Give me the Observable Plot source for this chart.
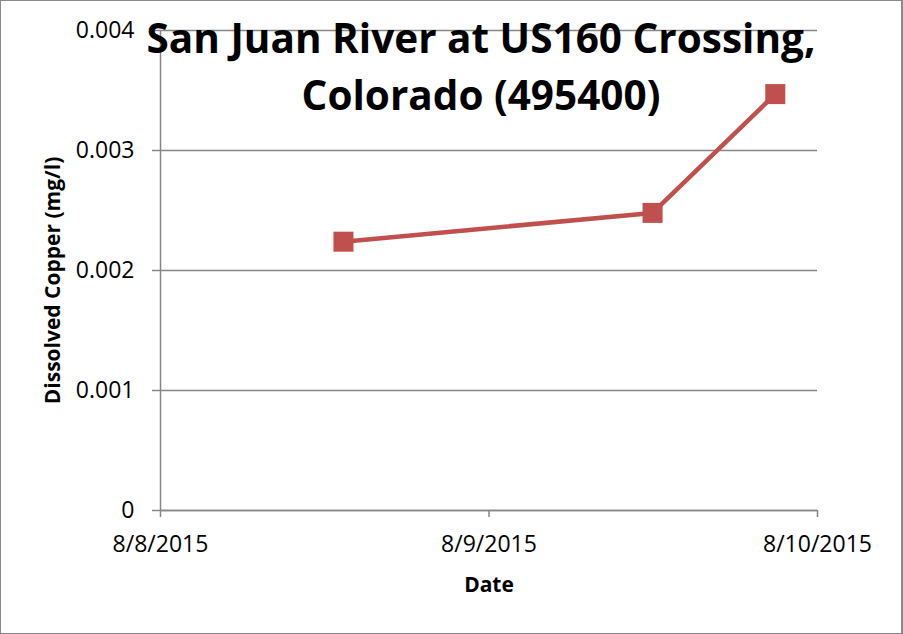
<!DOCTYPE html>
<html>
<head>
<meta charset="utf-8">
<script src="https://cdn.jsdelivr.net/npm/d3@7"></script>
<script src="https://cdn.jsdelivr.net/npm/@observablehq/plot@0.6"></script>
<style>
  html, body { margin: 0; padding: 0; background: #fff; }
  #wrap { position: relative; width: 903px; height: 634px; overflow: hidden; font-family: "Open Sans", sans-serif; }
  #frame { position: absolute; left: 0; top: 0; width: 903px; height: 634px; box-sizing: border-box; border: 1px solid #8a8a8a; border-right-width: 2px; pointer-events: none; }
  #title { position: absolute; left: 81px; width: 800px; top: 9px; text-align: center; font-weight: 700; font-size: 40.5px; line-height: 57px; color: #000; white-space: nowrap; }
  #chart { position: absolute; left: 0; top: 0; }
</style>
</head>
<body>
<div id="wrap">
  <div id="chart"></div>
  <div id="title">San Juan River at US160 Crossing,<br>Colorado (495400)</div>
  <div id="frame"></div>
</div>
<script>
const dates = ["2015-08-08T13:22Z", "2015-08-09T11:57Z", "2015-08-09T20:55Z"];
const copper = [0.00224, 0.00248, 0.00347];
const xTicks = ["2015-08-08T00:00Z", "2015-08-09T00:00Z", "2015-08-10T00:00Z"];
const yTicks = [0, 0.001, 0.002, 0.003, 0.004];
const xLabel = "Date";
const yLabel = "Dissolved Copper (mg/l)";

const data = dates.map((d, i) => ({date: new Date(d), value: copper[i]}));
const xTickDates = xTicks.map(d => new Date(d));
const fmtDate = d3.utcFormat("%-m/%-d/%Y");
const gray = "#868686";
const red = "#C0504D";

const plot = Plot.plot({
  width: 903,
  height: 634,
  marginLeft: 160,
  marginRight: 86,
  marginTop: 30,
  marginBottom: 124,
  style: {fontFamily: "Open Sans, sans-serif", fontSize: "23px", color: "#000", background: "transparent"},
  x: {type: "utc", domain: [xTickDates[0], xTickDates[2]]},
  y: {domain: [0, 0.004]},
  marks: [
    Plot.gridY(yTicks, {stroke: gray, strokeOpacity: 1, strokeWidth: 1.5}),
    Plot.ruleX([xTickDates[0]], {stroke: gray, strokeWidth: 1.5}),
    Plot.ruleY([0], {stroke: gray, strokeWidth: 1.5}),
    Plot.axisY({ticks: yTicks, tickSize: 8, tickPadding: 18, stroke: gray, strokeWidth: 1.5, fill: "#000", fontSize: 23,
      tickFormat: d => d === 0 ? "0" : d.toFixed(3), label: null}),
    Plot.axisX({ticks: xTickDates, tickSize: 7, tickPadding: 18, stroke: gray, strokeWidth: 1.5, fill: "#000", fontSize: 23,
      tickFormat: fmtDate, label: null}),
    Plot.line(data, {x: "date", y: "value", stroke: red, strokeWidth: 4.5}),
    Plot.dot(data, {x: "date", y: "value", symbol: "square", r: 11.3, fill: red, stroke: "none"}),
    Plot.text([yLabel], {frameAnchor: "left", dx: -107, dy: 10, rotate: -90, textAnchor: "middle", lineAnchor: "middle", text: d => d, fontWeight: "bold", fontSize: 21, fill: "#000"}),
    Plot.text([xLabel], {frameAnchor: "bottom", dy: 75, textAnchor: "middle", lineAnchor: "middle", text: d => d, fontWeight: "bold", fontSize: 21, fill: "#000"})
  ]
});
document.getElementById("chart").appendChild(plot);
</script>
</body>
</html>
